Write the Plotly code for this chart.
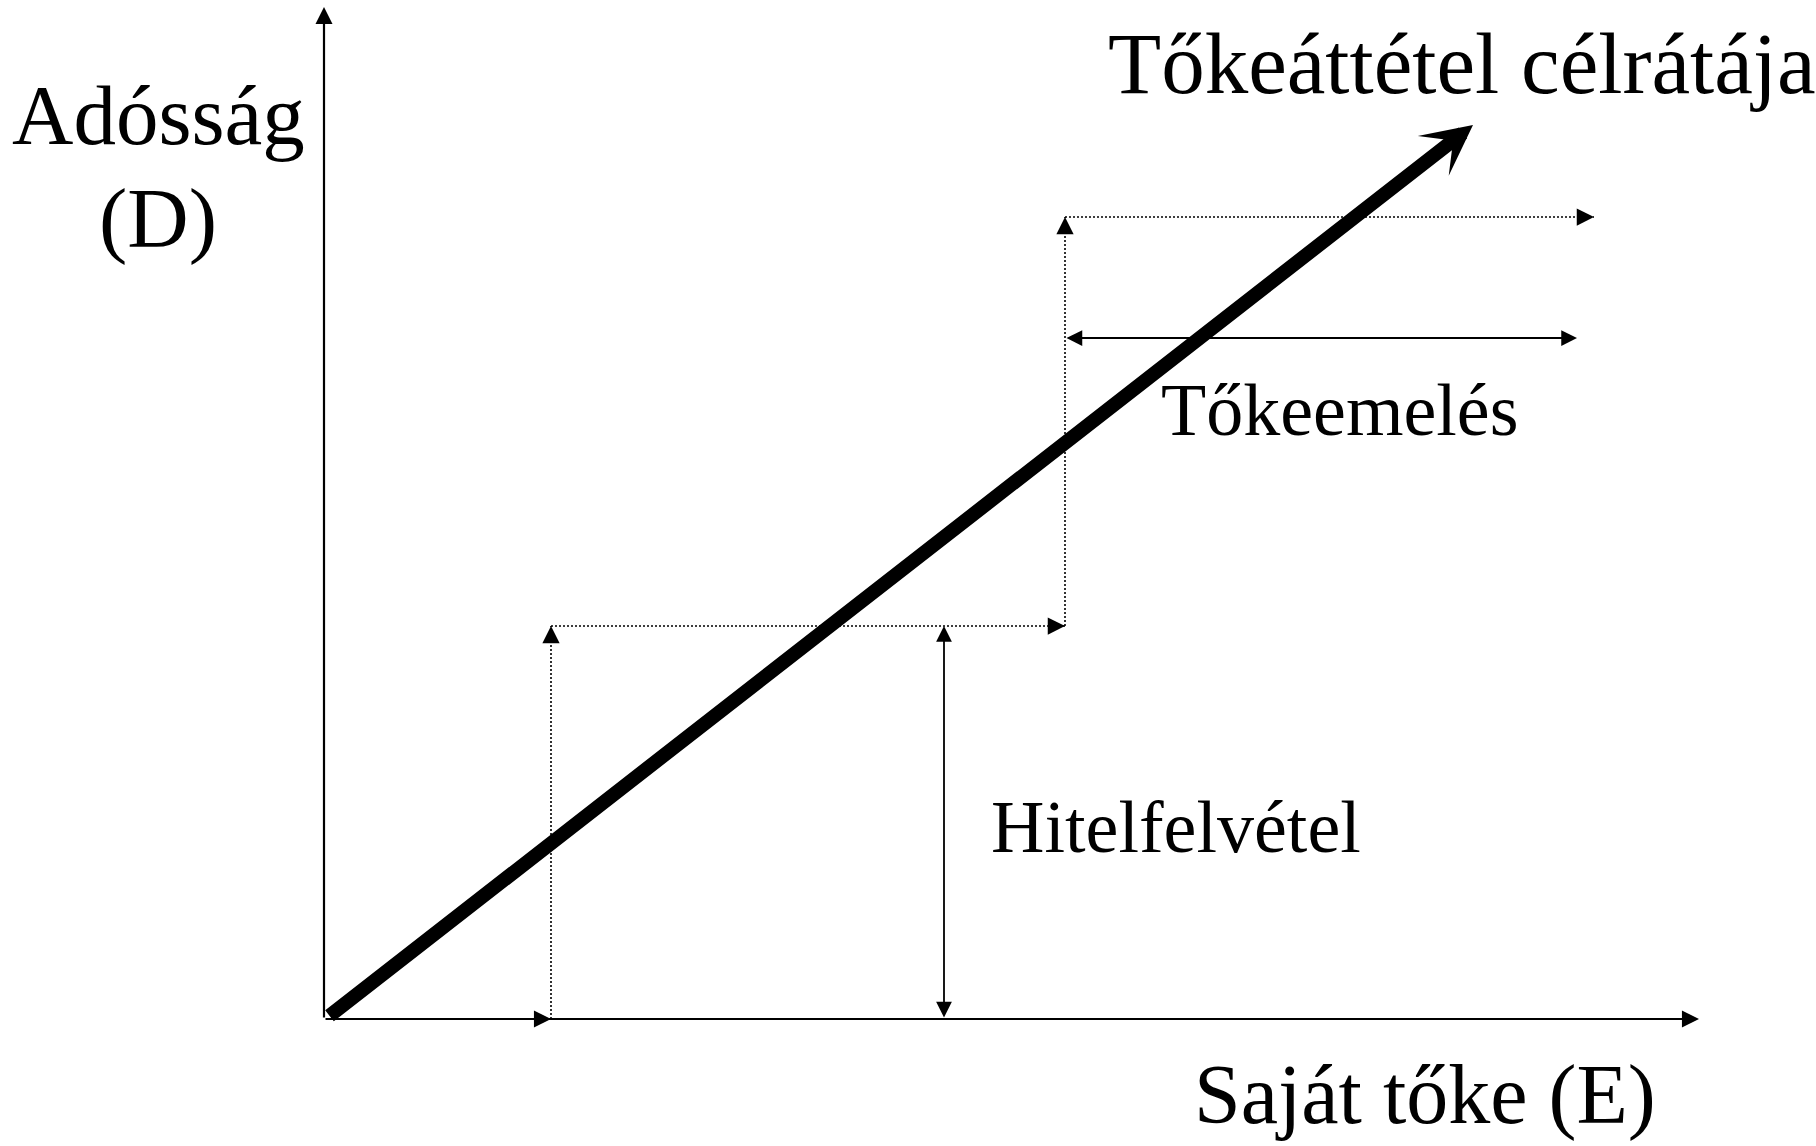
import plotly.graph_objects as go

# ---- data (conceptual diagram values, origin = (0, 0)) ----
axis_end_equity = 1375          # end of the "Saját tőke (E)" axis
axis_end_debt = 1012            # end of the "Adósság (D)" axis
step_equity = [227, 741]        # equity levels of the staircase
step_debt = [393, 802]          # debt levels of the staircase
raise_dotted_end = 1270         # end of the upper dotted horizontal
raise_arrow_equity = [741, 1253]  # "Tőkeemelés" double arrow (E range)
raise_arrow_debt = 681            # "Tőkeemelés" double arrow (D level)
borrow_arrow_equity = 620         # "Hitelfelvétel" double arrow (E level)
borrow_arrow_debt = [0, 393]      # "Hitelfelvétel" double arrow (D range)
target_equity = [4, 1149]         # target leverage ratio line
target_debt = [2, 894]

labels = ["Tőkeáttétel célrátája", "Adósság", "(D)", "Tőkeemelés",
          "Hitelfelvétel", "Saját tőke (E)"]

# ---- figure geometry (1 data unit = 1 px) ----
W, H = 1816, 1146
X0, Y0 = 324, 1019   # pixel position of the origin

FONT = "Liberation Serif, Times New Roman, serif"

fig = go.Figure()
shapes = []
annotations = []


def arrow(x_head, y_head, x_tail, y_tail, width, size, head=2, both=False):
    annotations.append(dict(
        x=x_head, y=y_head, ax=x_tail, ay=y_tail,
        xref="x", yref="y", axref="x", ayref="y",
        text="", showarrow=True, arrowhead=head, arrowsize=size,
        arrowwidth=width, arrowcolor="black",
        arrowside="end+start" if both else "end",
        startarrowhead=head, startarrowsize=size,
    ))


def head_only(x_tip, y_tip, dx, dy, width=1.5, size=2.3):
    # arrowhead style 2 is 5 units long, tip sits on the head point
    s = width * size
    xt, yt = x_tip - dx * 4.6 * s, y_tip - dy * 4.6 * s
    arrow(x_tip, y_tip, xt, yt, width, size)


def dotted(x0, y0, x1, y1):
    shapes.append(dict(type="line", x0=x0, y0=y0, x1=x1, y1=y1,
                       xref="x", yref="y",
                       line=dict(color="black", width=1.6, dash="2px,2px")))


# axes (solid, arrow at the end)
AXW, AXS = 2.2, 1.55
arrow(0, axis_end_debt, 0, 0, AXW, AXS)
arrow(axis_end_equity, 0, 0, 0, AXW, AXS)
# small arrowhead on the equity axis at the first step
head_only(step_equity[0], 0, 1, 0, width=AXW, size=AXS)

# dotted staircase
dotted(step_equity[0], 0, step_equity[0], step_debt[0])
head_only(step_equity[0], step_debt[0], 0, 1)
dotted(step_equity[0], step_debt[0], step_equity[1], step_debt[0])
head_only(step_equity[1], step_debt[0], 1, 0)
dotted(step_equity[1], step_debt[0], step_equity[1], step_debt[1])
head_only(step_equity[1], step_debt[1], 0, 1)
dotted(step_equity[1], step_debt[1], raise_dotted_end, step_debt[1])
head_only(raise_dotted_end, step_debt[1], 1, 0)

# double arrows
DW, DS = 1.8, 1.75
arrow(raise_arrow_equity[1], raise_arrow_debt,
      raise_arrow_equity[0], raise_arrow_debt, DW, DS, both=True)
arrow(borrow_arrow_equity, borrow_arrow_debt[1],
      borrow_arrow_equity, borrow_arrow_debt[0], DW, DS, both=True)

# thick target-ratio arrow (barbed head)
TW, TS = 14, 0.6
arrow(target_equity[1], target_debt[1],
      target_equity[0], target_debt[0], TW, TS, head=3)


def label(text, cx_px, baseline_px, size):
    cy_px = baseline_px - 0.3375 * size
    annotations.append(dict(
        x=cx_px - X0, y=Y0 - cy_px, xref="x", yref="y",
        text=text, showarrow=False, xanchor="center", yanchor="middle",
        font=dict(family=FONT, size=size, color="black"),
    ))


label(labels[0], 1462, 93, 87)
label(labels[1], 158, 144, 85)
label(labels[2], 158, 247, 85)
label(labels[3], 1340, 435, 74)
label(labels[4], 1176, 852, 74)
label(labels[5], 1425, 1123, 84)

fig.update_layout(
    width=W, height=H,
    margin=dict(l=0, r=0, t=0, b=0),
    paper_bgcolor="white", plot_bgcolor="white",
    showlegend=False,
    shapes=shapes, annotations=annotations,
    xaxis=dict(range=[-X0, W - X0], visible=False, fixedrange=True),
    yaxis=dict(range=[Y0 - H, Y0], visible=False, fixedrange=True),
)

fig.write_html("out.html", config={"displayModeBar": False},
               post_script="document.body.style.margin='0';")
